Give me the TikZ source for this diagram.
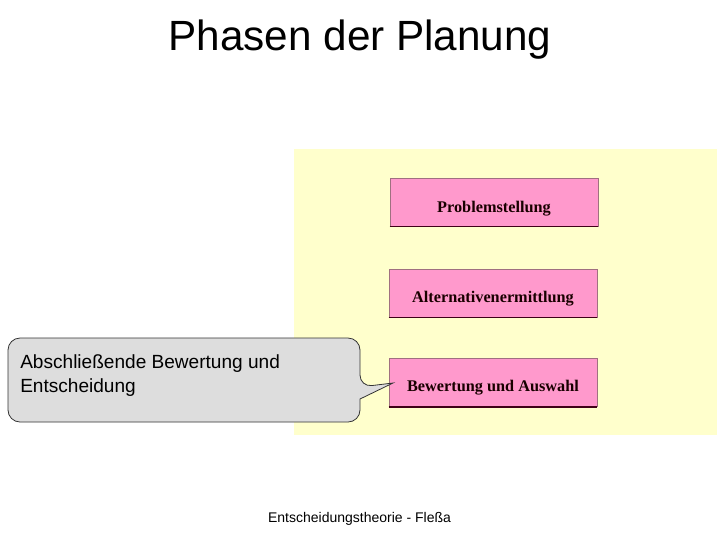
\documentclass[tikz,border=0pt]{standalone}
\usepackage{fontspec}
\setmainfont{Liberation Sans}
\newfontfamily\serifbox{Liberation Serif}
\begin{document}
\begin{tikzpicture}[x=0.75pt,y=-0.75pt,
  phasebox/.style={draw=phaseedge,line width=0.6pt,fill=phasepink,minimum width=156pt,minimum height=36pt,inner sep=0pt},
  phasetext/.style={inner sep=0pt,font=\serifbox\bfseries\fontsize{12.2}{14}\selectfont,text=black!90!red},
  calloutline/.style={draw=black!80,line width=0.6pt,fill=calloutgray}]
\definecolor{phasepink}{HTML}{FF99CC}
\definecolor{phaseedge}{HTML}{A07080}
\definecolor{phasedark}{HTML}{400018}
\definecolor{panelyellow}{HTML}{FFFFCC}
\definecolor{calloutgray}{HTML}{DDDDDD}
\useasboundingbox (0,0) rectangle (720,540);
\fill[white] (0,0) rectangle (720,540);
% title
\node[anchor=base,inner sep=0pt,font=\fontsize{31.7}{38}\selectfont] (title) at (360,50) {Phasen der Planung};
% yellow panel
\fill[panelyellow] (294,149) rectangle (717,435);
% phase boxes
\node[phasebox] (p1) at (494,202) {};
\node[phasebox] (p2) at (493,293) {};
\node[phasebox] (p3) at (493,382.5) {};
\foreach \b in {p1,p2,p3}{\draw[phasedark,line width=0.9pt] (\b.south west) -- (\b.south east);}
\node[phasetext,anchor=base] (t1) at (494,212) {Problemstellung};
\node[phasetext,anchor=base] (t2) at (493,302) {Alternativenermittlung};
\node[phasetext,anchor=base] (t3) at (493,391) {Bewertung und Auswahl};
% callout
\coordinate (tip) at (393,383);
\path[calloutline,rounded corners=9pt] (8,338) -- (360,338) -- (360,387) [sharp corners] -- (tip) -- (360,399) [rounded corners=9pt] -- (360,422) -- (8,422) -- cycle;
\node[anchor=base west,inner sep=0pt,font=\fontsize{14.3}{18}\selectfont] (ctext) at (20,368) {Abschließende Bewertung und};
\node[anchor=base west,inner sep=0pt,font=\fontsize{14.3}{18}\selectfont] (ctext2) at (20,392) {Entscheidung};
% footer
\node[anchor=base,inner sep=0pt,font=\fontsize{10.5}{12}\selectfont] (footer) at (359.5,522) {Entscheidungstheorie - Fleßa};
\end{tikzpicture}
\end{document}
